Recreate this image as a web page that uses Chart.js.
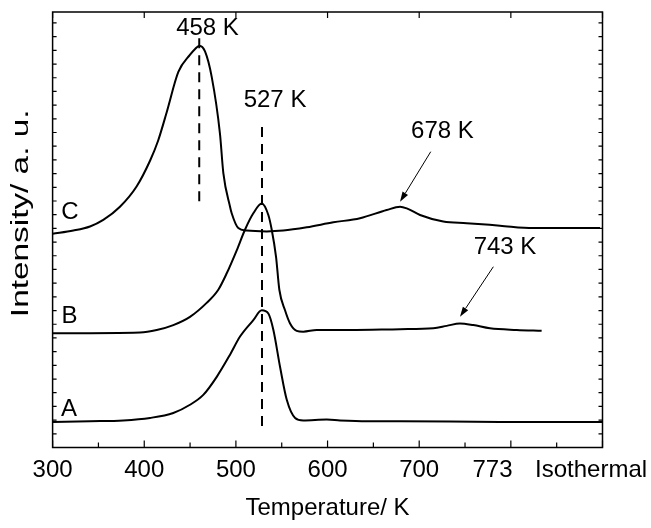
<!DOCTYPE html>
<html><head><meta charset="utf-8">
<script src="https://cdn.jsdelivr.net/npm/chart.js@4/dist/chart.umd.min.js"></script>
<style>html,body{margin:0;padding:0;background:#fff}canvas{display:block}</style>
</head><body>
<canvas id="c" width="651" height="528"></canvas>
<script>
// ---- data ----
const tempC = [300,322.6,340.8,355.3,373.5,391.8,406.3,415.0,424.5,437.2,450.0,455.5,460.1,466.3,473.6,482.6,486.3,493.6,495.4,502.6,511.8,533.6,551.7,577.3,606.3,635.4,664.5,679.1,686.4,700.9,726.3,751.8,788.2,824.5,860.9,897.3];
const intC  = [1.85,1.89,1.94,2.02,2.18,2.43,2.74,2.98,3.33,3.82,4.03,4.10,4.14,4.07,3.76,3.07,2.59,2.18,2.10,1.92,1.89,1.88,1.89,1.93,1.99,2.04,2.14,2.18,2.16,2.08,2.00,1.98,1.95,1.92,1.92,1.92];
const tempB = [300,395.4,413.6,431.7,449.9,468.1,480.8,490.0,500.9,509.9,519.0,528.2,535.4,539.1,543.8,547.4,553.6,559.1,566.3,573.5,588.2,624.5,679.1,715.4,730.0,744.5,759.0,777.2,806.4,833.6];
const intB  = [0.64,0.65,0.68,0.74,0.84,1.01,1.17,1.37,1.65,1.90,2.10,2.22,2.08,1.90,1.57,1.17,0.92,0.76,0.67,0.66,0.68,0.68,0.69,0.70,0.73,0.76,0.74,0.70,0.68,0.67];
const tempA = [300,340.8,377.1,406.3,431.7,449.9,464.4,479.1,493.6,504.5,519.0,528.2,535.4,540.9,548.2,555.5,564.6,573.5,599.1,613.6,642.7,679.1,788.2,900];
const intA  = [-0.44,-0.43,-0.42,-0.39,-0.33,-0.23,-0.11,0.11,0.38,0.60,0.80,0.92,0.88,0.68,0.23,-0.17,-0.39,-0.42,-0.41,-0.42,-0.43,-0.43,-0.44,-0.44];

// peak marker (dashed) lines
const markerT      = [460, 528.5];
const markerTop    = [4.23, 3.15];
const markerBottom = [2.18, -0.49];

// annotation texts and anchors (data coordinates)
const labelText = ['458 K','527 K','678 K','743 K','C','B','A'];
const labelT    = [469, 542.7, 725.4, 793.6, 319, 318.4, 317.9];
const labelI    = [4.35, 3.47, 3.10, 1.68, 2.11, 0.84, -0.28];
const arrowFromT = [712.6, 780.9];
const arrowFromI = [2.85, 1.45];
const arrowToT   = [679.1, 744.5];
const arrowToI   = [2.24, 0.84];

// x axis tick labels
const xTickValues = [300, 400, 500, 600, 700, 780, 887.5];
const xTickLabels = ['300','400','500','600','700','773','Isothermal'];
const yTitle = 'Intensity/ a. u.';
const xTitle = 'Temperature/ K';

const FONT = 'Liberation Sans, Arial, Helvetica, sans-serif';
const zip = (xs, ys) => xs.map((x, i) => ({x: x, y: ys[i]}));

const curve = (label, xs, ys) => ({label, data: zip(xs, ys), borderColor:'#000', borderWidth:2,
  pointRadius:0, fill:false, cubicInterpolationMode:'monotone'});
const marker = i => ({label:'m'+i, data:[{x:markerT[i], y:markerTop[i]},{x:markerT[i], y:markerBottom[i]}],
  borderColor:'#000', borderWidth:2, borderDash:[10,7], pointRadius:0, fill:false, tension:0});

const framePlugin = {
  id:'frame',
  afterDatasetsDraw(chart){
    const ctx = chart.ctx, a = chart.chartArea, xs = chart.scales.x, ys = chart.scales.y;
    ctx.save();
    ctx.strokeStyle = '#000'; ctx.lineWidth = 1.5;
    ctx.strokeRect(a.left, a.top, a.right - a.left, a.bottom - a.top);
    ctx.lineWidth = 1.2;
    ctx.beginPath();
    for (let v = 300; v <= 900; v += 50) {
      const px = xs.getPixelForValue(v);
      const major = v % 100 === 0;
      ctx.moveTo(px, a.bottom); ctx.lineTo(px, a.bottom - (major ? 7 : 5));
      if (major) { ctx.moveTo(px, a.top); ctx.lineTo(px, a.top + 6); }
    }
    for (let k = 0; ; k++) {
      const v = -0.75 + k / 6;
      if (v > 4.55) break;
      const py = ys.getPixelForValue(v);
      const major = Math.abs(v - Math.round(v)) < 1e-6;
      const len = major ? 7 : 4;
      ctx.moveTo(a.left, py); ctx.lineTo(a.left + len, py);
      ctx.moveTo(a.right, py); ctx.lineTo(a.right - len, py);
    }
    ctx.stroke();
    // arrows
    ctx.lineWidth = 1;
    for (let i = 0; i < arrowFromT.length; i++) {
      const x1 = xs.getPixelForValue(arrowFromT[i]), y1 = ys.getPixelForValue(arrowFromI[i]);
      const x2 = xs.getPixelForValue(arrowToT[i]),  y2 = ys.getPixelForValue(arrowToI[i]);
      const ang = Math.atan2(y2 - y1, x2 - x1), L = 10, W = 3.2;
      const bx = x2 - L * Math.cos(ang), by = y2 - L * Math.sin(ang);
      ctx.beginPath(); ctx.moveTo(x1, y1); ctx.lineTo(bx, by); ctx.stroke();
      ctx.beginPath();
      ctx.moveTo(x2, y2);
      ctx.lineTo(bx + W * Math.sin(ang), by - W * Math.cos(ang));
      ctx.lineTo(bx - W * Math.sin(ang), by + W * Math.cos(ang));
      ctx.closePath(); ctx.fillStyle = '#000'; ctx.fill();
    }
    // labels
    ctx.fillStyle = '#000';
    ctx.font = '24px ' + FONT;
    ctx.textAlign = 'center'; ctx.textBaseline = 'middle';
    for (let i = 0; i < labelText.length; i++) {
      ctx.fillText(labelText[i], xs.getPixelForValue(labelT[i]), ys.getPixelForValue(labelI[i]));
    }
    // y axis title (elongated as in the reference)
    ctx.save();
    ctx.translate(22, ys.getPixelForValue(2.1));
    ctx.rotate(-Math.PI / 2);
    ctx.scale(1.45, 1);
    ctx.font = '23px ' + FONT;
    ctx.fillText(yTitle, 0, 0);
    ctx.restore();
    ctx.restore();
  }
};

new Chart(document.getElementById('c'), {
  type:'line',
  data:{ datasets:[ curve('C', tempC, intC), curve('B', tempB, intB), curve('A', tempA, intA), marker(0), marker(1) ] },
  options:{
    responsive:false, animation:false, devicePixelRatio:1,
    layout:{ padding:{ top:12, right:48.5, left:0, bottom:0 } },
    plugins:{ legend:{display:false}, tooltip:{enabled:false} },
    scales:{
      x:{ type:'linear', min:300, max:900, position:'bottom',
        grid:{ display:false }, border:{ display:false },
        afterBuildTicks(s){ s.ticks = xTickValues.map(v => ({value:v})); },
        ticks:{ autoSkip:false, maxRotation:0, color:'#000', padding:0, font:{ family:FONT, size:24 },
          callback:(v, i) => xTickLabels[i] },
        title:{ display:true, text:xTitle, color:'#000', font:{ family:FONT, size:24 }, padding:{ top:0, bottom:5 } },
        afterFit(s){ s.height = 80.5; s.paddingLeft = 0; s.paddingRight = 0; }
      },
      y:{ type:'linear', min:-0.75, max:4.55,
        grid:{ display:false }, border:{ display:false },
        ticks:{ display:false },
        title:{ display:false, text:yTitle },
        afterFit(s){ s.width = 52.6; }
      }
    }
  },
  plugins:[framePlugin]
});
</script>
</body></html>
